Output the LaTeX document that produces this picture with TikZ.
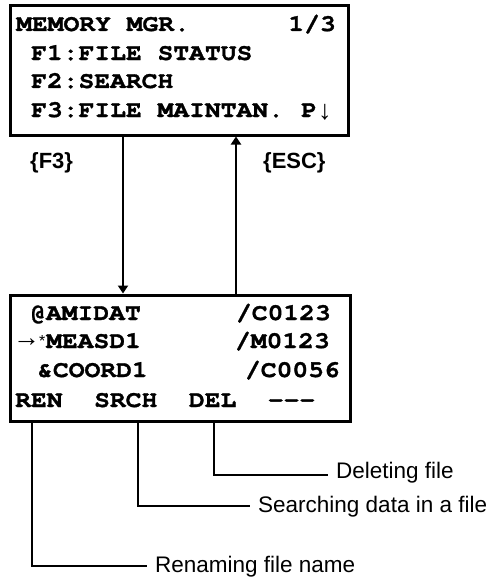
\documentclass[tikz,border=0pt]{standalone}
\usepackage{fontspec}
\usepackage{tikz}
\usetikzlibrary{arrows.meta,positioning}
\newfontfamily\lcdfont[FakeStretch=1.12,BoldFeatures={FakeBold=1.3}]{TeX Gyre Cursor}
\newfontfamily\symfont{Liberation Sans}
\newfontfamily\keyfont{Liberation Sans}
\tikzset{
  scr/.style={rectangle,draw=black,line width=3pt,inner sep=0pt},
  lcd/.style={anchor=base west,inner sep=0pt,font=\lcdfont\bfseries\fontsize{23.5}{25}\selectfont},
  lcdr/.style={lcd,anchor=base east},
  thin/.style={lcd,font=\symfont\fontsize{22}{24}\selectfont},
  key/.style={anchor=base west,inner sep=0pt,font=\keyfont\bfseries\fontsize{22}{24}\selectfont},
  note/.style={anchor=west,inner ysep=0pt,inner xsep=8pt,text height=16pt,text depth=3pt,
               font=\keyfont\fontsize{22.5}{26}\selectfont},
  fl/.style={-{Triangle[length=8pt,width=10pt]},line width=2.5pt},
  ld/.style={line width=2.5pt},
}
\begin{document}
\begin{tikzpicture}[x=1pt,y=-1pt]
  \useasboundingbox (0,0) rectangle (490,578);
  % memory manager screen
  \node[scr,minimum width=338pt,minimum height=129pt] (mgr) at (179,70.5) {};
  \node[lcd] (t1) at (16,31) {MEMORY MGR.};
  \node[lcdr] (pg) at (336,31) {1/3};
  \node[lcd] (t2) at (31,60) {F1:FILE STATUS};
  \node[lcd] (t3) at (31,88) {F2:SEARCH};
  \node[lcd] (t4) at (31,117) {F3:FILE MAINTAN.};
  \node[lcd] (pp) at (301,117) {P};
  \node[thin,font=\symfont\fontsize{27}{29}\selectfont] (pd) at (318,119) {↓};
  % file maintenance screen
  \node[scr,minimum width=340pt,minimum height=126pt] (fm) at (180,358) {};
  \node[lcd] (f1) at (30,320) {@AMIDAT};
  \node[lcdr] (c1) at (331,320) {/C0123};
  \node[thin,font=\symfont\fontsize{27}{29}\selectfont] (cur) at (13,346) {→};
  \node[thin,font=\symfont\fontsize{16}{18}\selectfont] (ast) at (39,346) {*};
  \node[lcd] (f2) at (46,348) {MEASD1};
  \node[lcdr] (c2) at (330,348) {/M0123};
  \node[lcd] (f3) at (37,377) {\&COORD1};
  \node[lcdr] (c3) at (340,377) {/C0056};
  \node[lcd] (soft) at (15,407) {REN\ \ SRCH\ \ DEL\ \ ---};
  % keys
  \node[key] (kf3) at (30,168) {\{F3\}};
  \node[key] (kesc) at (263,168) {\{ESC\}};
  \draw[fl] (mgr.south -| 123,0) -- (fm.north -| 123,0);
  \draw[fl] (fm.north -| 236,0) -- (mgr.south -| 236,0);
  % softkey notes
  \node[note,text depth=10pt] (del) at (328,475) {Deleting file};
  \node[note] (srch) at (250,506) {Searching data in a file};
  \node[note] (ren) at (147,566) {Renaming file name};
  \draw[ld] (fm.south -| 214,0) |- (del.west);
  \draw[ld] (fm.south -| 138,0) |- (srch.west);
  \draw[ld] (fm.south -| 32,0) |- (ren.west);
\end{tikzpicture}
\end{document}
